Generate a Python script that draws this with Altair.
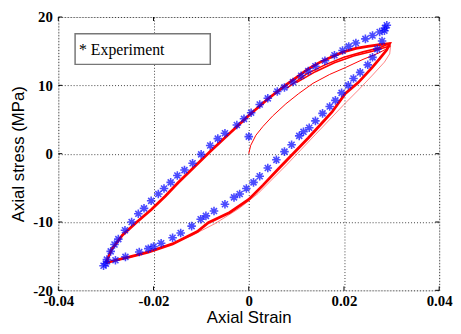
import altair as alt
import pandas as pd

# ---------------- data ----------------
# Experiment: upper branch (going from bottom-left to top-right)
exp_up_x = [-0.0305, -0.0298, -0.029, -0.0282, -0.0274, -0.026, -0.0246, -0.0232, -0.022, -0.0205,
            -0.019, -0.0178, -0.0164, -0.015, -0.0135, -0.0118, -0.010, -0.0081, -0.0065, -0.005,
            -0.0025, -0.001, 0.0005, 0.0023, 0.004, 0.006, 0.0075, 0.0093, 0.011, 0.0125,
            0.014, 0.016, 0.018, 0.0197, 0.021, 0.0225, 0.0245, 0.026, 0.0275, 0.0286, 0.029]
exp_up_y = [-16.4, -15.5, -14.3, -13.3, -12.5, -11.2, -10.0, -8.8, -8.0, -6.9,
            -5.9, -5.1, -4.2, -3.2, -2.4, -1.4, -0.1, 1.2, 2.2, 3.0,
            4.2, 5.1, 6.0, 7.2, 8.1, 9.1, 9.7, 10.5, 11.4, 12.1,
            12.8, 13.6, 14.4, 15.1, 15.7, 16.2, 16.8, 17.3, 17.8, 18.4, 18.8]
# Experiment: lower branch (going from top-right back to bottom-left)
exp_lo_x = [0.0285, 0.028, 0.027, 0.026, 0.025, 0.0234, 0.022, 0.0209, 0.0195, 0.0182,
            0.017, 0.0155, 0.014, 0.0127, 0.0115, 0.0106, 0.009, 0.0075, 0.0058, 0.004,
            0.0023, 0.001, -0.0005, -0.0019, -0.0031, -0.005, -0.0073, -0.009, -0.0101, -0.012,
            -0.0143, -0.016, -0.0184, -0.020, -0.0211, -0.023, -0.0259, -0.028, -0.030]
exp_lo_y = [18.0, 16.5, 15.3, 14.1, 13.0, 11.9, 11.0, 10.0, 8.9, 7.8,
            6.9, 5.9, 4.8, 3.8, 3.2, 2.6, 1.3, 0.3, -0.9, -2.1,
            -3.3, -4.2, -5.1, -5.9, -6.4, -7.4, -8.4, -9.1, -9.6, -10.6,
            -11.6, -12.3, -13.1, -13.6, -13.9, -14.4, -15.1, -15.6, -16.1]
exp_extra_x = [0.0]
exp_extra_y = [2.5]

# Model: main stabilised loop
loop_x = [-0.030, -0.0288, -0.0265, -0.0235, -0.0205, -0.0175, -0.0149, -0.0114, -0.008, -0.004,
          0.0, 0.004, 0.0079, 0.0099, 0.0125, 0.015, 0.0175, 0.0199, 0.0225, 0.025, 0.0275, 0.0296,
          0.029, 0.0275, 0.0259, 0.023, 0.0203, 0.0175, 0.015, 0.0125, 0.0093, 0.006, 0.003, 0.0,
          -0.004, -0.0085, -0.0108, -0.016, -0.0211, -0.025, -0.028, -0.030]
loop_y = [-16.0, -14.0, -11.9, -10.0, -8.2, -6.2, -4.3, -1.9, 0.4, 3.0,
          5.6, 8.0, 10.1, 11.1, 12.4, 13.4, 14.2, 14.9, 15.4, 15.7, 15.95, 16.1,
          15.2, 13.9, 12.6, 10.4, 8.8, 6.1, 4.2, 2.3, 0.0, -2.4, -4.6, -6.7,
          -8.6, -10.1, -11.4, -13.2, -14.4, -15.1, -15.6, -16.0]
# Model: initial loading curve
init_x = [0.0, 0.0004, 0.0015, 0.003, 0.005, 0.0078, 0.0105, 0.0135, 0.017, 0.0203, 0.024, 0.0272, 0.0296]
init_y = [0.0, 1.2, 2.7, 4.0, 5.5, 7.3, 8.8, 10.3, 11.6, 12.6, 13.8, 14.7, 15.6]
# Model: other cycles near the tip
cyc2_x = [0.008, 0.012, 0.016, 0.020, 0.024, 0.0275, 0.0298]
cyc2_y = [9.6, 11.6, 13.0, 14.1, 14.9, 15.5, 16.2]
cyc3_x = [0.010, 0.014, 0.018, 0.022, 0.026, 0.0298]
cyc3_y = [10.4, 12.0, 13.3, 14.3, 15.0, 15.8]
cyc4_x = [0.0298, 0.0296, 0.0285, 0.026, 0.023, 0.020, 0.017, 0.014, 0.011, 0.008, 0.005,
          0.002, -0.002, -0.007, -0.012, -0.017, -0.022, -0.026, -0.030]
cyc4_y = [15.8, 14.6, 13.4, 11.5, 9.3, 7.2, 5.0, 2.8, 0.6, -1.6, -3.7,
          -5.8, -8.0, -10.2, -12.0, -13.4, -14.6, -15.4, -16.0]

x_ticks = [-0.04, -0.02, 0.0, 0.02, 0.04]
y_ticks = [-20, -10, 0, 10, 20]
legend_label = ["* Experiment"]


def line_df(xs, ys, name):
    return pd.DataFrame({"x": xs, "y": ys, "series": name, "i": list(range(len(xs)))})


exp_df = pd.DataFrame({
    "x": exp_up_x + exp_lo_x + exp_extra_x,
    "y": exp_up_y + exp_lo_y + exp_extra_y,
})
main_df = line_df(loop_x, loop_y, "loop")
init_df = line_df(init_x, init_y, "init")
cyc_df = pd.concat([line_df(cyc2_x, cyc2_y, "c2"), line_df(cyc3_x, cyc3_y, "c3")])
light_df = line_df(cyc4_x, cyc4_y, "c4")

W, H = 386, 277
xs = alt.Scale(domain=[-0.04, 0.04], nice=False, zero=False)
ys = alt.Scale(domain=[-20, 20], nice=False, zero=False)

axis_common = dict(
    labelFont="Liberation Serif", labelFontWeight="bold", labelFontSize=15, labelColor="black",
    titleFont="Liberation Sans", titleFontWeight="normal", titleFontSize=17, titleColor="black",
    ticks=False, domain=False, grid=True, gridColor="black", gridDash=[1, 2], gridOpacity=0.75,
    labelExpr="'' + datum.value", labelFlush=False, labelOverlap=False,
)

base = alt.Chart(exp_df)

grid = base.mark_point(opacity=0).encode(
    x=alt.X("x:Q", scale=xs, axis=alt.Axis(values=x_ticks, title="Axial Strain",
                                            labelPadding=3, titleBaseline="alphabetic",
                                            titleY=33, **axis_common)),
    y=alt.Y("y:Q", scale=ys, axis=alt.Axis(values=y_ticks, title="Axial stress (MPa)",
                                            labelPadding=6, titlePadding=5, **axis_common)),
)

enc = dict(x=alt.X("x:Q", scale=xs), y=alt.Y("y:Q", scale=ys),
           detail="series:N", order="i:Q")

main_line = alt.Chart(main_df).mark_line(color="#ff0000", strokeWidth=2.8).encode(**enc)
init_line = alt.Chart(init_df).mark_line(color="#ff0000", strokeWidth=1).encode(**enc)
cyc_line = alt.Chart(cyc_df).mark_line(color="#ff0000", strokeWidth=1.6).encode(**enc)
light_line = alt.Chart(light_df).mark_line(color="#ff3030", strokeWidth=1, opacity=0.6).encode(**enc)

star = "M0,-1L0,1M-1,0L1,0M-0.7,-0.7L0.7,0.7M-0.7,0.7L0.7,-0.7"
points = base.mark_point(shape=star, filled=False, color="#0000ff", strokeWidth=1.6, size=75).encode(
    x=alt.X("x:Q", scale=xs), y=alt.Y("y:Q", scale=ys))

xt = pd.DataFrame({"t": x_ticks})
yt = pd.DataFrame({"t": y_ticks})
tick_b = alt.Chart(xt).mark_rule(color="black").encode(x=alt.X("t:Q", scale=xs), y=alt.value(H), y2=alt.value(H - 4))
tick_t = alt.Chart(xt).mark_rule(color="black").encode(x=alt.X("t:Q", scale=xs), y=alt.value(0), y2=alt.value(4))
tick_l = alt.Chart(yt).mark_rule(color="black").encode(y=alt.Y("t:Q", scale=ys), x=alt.value(0), x2=alt.value(4))
tick_r = alt.Chart(yt).mark_rule(color="black").encode(y=alt.Y("t:Q", scale=ys), x=alt.value(W), x2=alt.value(W - 4))

leg_df = pd.DataFrame({"label": legend_label})
leg_box = alt.Chart(leg_df).mark_rect(fill="white", stroke="#777777", strokeWidth=1.5).encode(
    x=alt.value(17), x2=alt.value(154), y=alt.value(17), y2=alt.value(48))
leg_text = alt.Chart(leg_df).mark_text(align="left", baseline="alphabetic", font="Liberation Serif",
                                       fontSize=16, color="black").encode(
    x=alt.value(21), y=alt.value(38), text="label:N")

chart = alt.layer(grid, tick_b, tick_t, tick_l, tick_r, light_line, init_line, cyc_line, main_line,
                  points, leg_box, leg_text).properties(
    width=W, height=H, autosize="none",
    padding={"left": 51, "top": 7, "right": 14, "bottom": 34},
).configure_view(stroke="black", strokeWidth=1).configure(background="white")

chart.save("out.html", embed_options={"renderer": "svg", "actions": False})
